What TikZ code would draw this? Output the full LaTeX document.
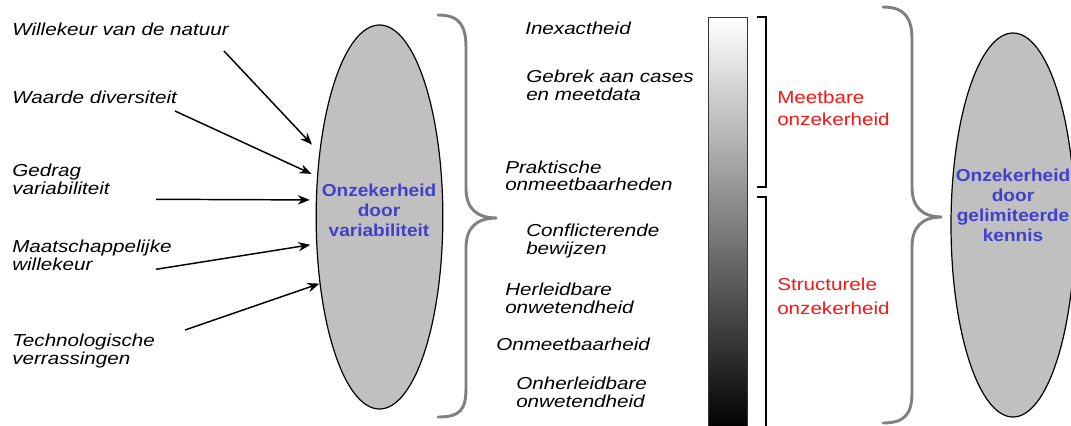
\documentclass[tikz,border=0pt]{standalone}
\usepackage{fontspec}
\setmainfont{Liberation Sans}[FakeStretch=1.19]
\newfontfamily\ellfont{Liberation Sans}[FakeStretch=1.1]
\usepackage{xcolor}
\usepackage{tikz}
\usetikzlibrary{arrows.meta,shapes.geometric}

\definecolor{ellgray}{RGB}{192,192,192}
\definecolor{bracegray}{RGB}{128,128,128}
\definecolor{labelblue}{RGB}{64,64,204}
\definecolor{labelred}{RGB}{250,20,20}

\begin{document}
\begin{tikzpicture}[x=0.75pt, y=-0.75pt,
    source/.style={anchor=base west, align=left, inner sep=0pt, font=\fontsize{13}{13}\selectfont\itshape},
    blob/.style={ellipse, draw, line width=0.9pt, fill=ellgray, minimum width=95pt, minimum height=288pt},
    blobtext/.style={anchor=base, align=center, inner sep=0pt, text=labelblue, font=\ellfont\fontsize{13}{15}\selectfont\bfseries},
    kind/.style={anchor=base west, align=left, inner sep=0pt, text=labelred, font=\fontsize{13}{16.3}\selectfont},
    arrow/.style={-{Stealth[length=9pt,width=7pt]}, line width=1.1pt},
    curly/.style={draw=bracegray, line width=2.2pt, line cap=round}]
        \useasboundingbox (0,0) rectangle (1071,425);
        % the two kinds of uncertainty
        \node[blob] (var) at (379.5,217) {};
        \node[blob, minimum width=93pt] (kennis) at (1013,225) {};
        \node[blobtext] (vartext) at (379,236) {Onzekerheid\\door\\variabiliteit};
        \node[blobtext] (kennistext) at (1013,241.7) {Onzekerheid\\door\\gelimiteerde\\kennis};
        % sources of variability (y = baseline of last line)
        \foreach \nm/\y/\txt in {natuur/35.7/{Willekeur van de natuur}, waarde/103/{Waarde diversiteit},
            gedrag/194.3/{Gedrag\\variabiliteit}, maatsch/270/{Maatschappelijke\\willekeur},
            techno/364.3/{Technologische\\verrassingen}} {
          \node[source] (\nm) at (12,\y) {\txt};
        }
        \coordinate (s1) at (224,51);
        \coordinate (s2) at (175,111);
        \coordinate (s3) at (156,199.3);
        \coordinate (s4) at (156,269.3);
        \coordinate (s5) at (185,330);
        \foreach \s/\a/\sh in {s1/133/8pt, s2/147/4.5pt, s3/165/4.5pt, s4/203/4.5pt, s5/228/0pt} {
          \draw[arrow, shorten >=\sh] (\s) -- (var.\a);
        }
        % sources of limited knowledge
        \foreach \nm/\x/\y/\txt in {inexact/525/34.3/{Inexactheid}, gebrek/526/100/{Gebrek aan cases\\en meetdata},
            praktisch/505/190.7/{Praktische\\onmeetbaarheden}, conflict/526/254/{Conflicterende\\bewijzen},
            herleid/505/313.3/{Herleidbare\\onwetendheid}, onmeet/496/350/{Onmeetbaarheid},
            onherleid/516/407.3/{Onherleidbare\\onwetendheid}} {
          \node[source] (\nm) at (\x,\y) {\txt};
        }
        % braces
        \draw[curly] (438,15) .. controls (460,15) and (466,26) .. (466,48) -- (466,188)
          .. controls (466,208) and (476,218) .. (497,218) .. controls (476,218) and (466,228) .. (466,248)
          -- (466,388) .. controls (466,410) and (460,417) .. (438,417);
        \draw[curly] (883,7) .. controls (905,7) and (912,18) .. (912,40) -- (912,187)
          .. controls (912,207) and (922,217) .. (942,217) .. controls (922,217) and (912,227) .. (912,247)
          -- (912,392) .. controls (912,414) and (905,423) .. (883,423);
        % grey scale bar with its two brackets
        \shade[top color=white, middle color=black!25, bottom color=black, draw=black!80, line width=0.6pt]
          (708,17) rectangle (747,430);
        \draw[line width=0.8pt] (757,17) -- (766,17) -- (766,187) -- (757,187);
        \draw[line width=0.8pt] (757,197) -- (766,197) -- (766,430);
        \node[kind] (meetbaar) at (777,125) {Meetbare\\onzekerheid};
        \node[kind, font=\fontsize{13}{17.3}\selectfont] (structureel) at (777,314) {Structurele\\onzekerheid};
      \end{tikzpicture}
\end{document}
